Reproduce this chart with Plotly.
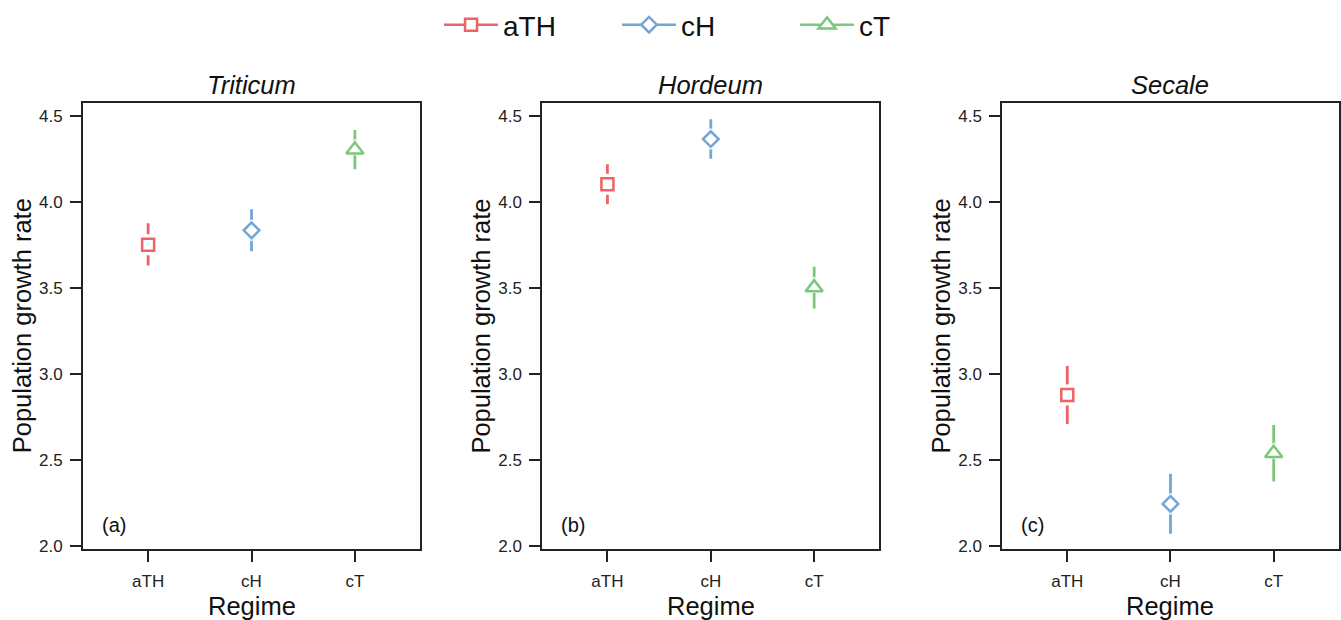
import plotly.graph_objects as go

regimes = ["aTH", "cH", "cT"]
species = ["Triticum", "Hordeum", "Secale"]
panel_tags = ["(a)", "(b)", "(c)"]

# mean, lower, upper per species x regime
means = {
    "Triticum": [3.752, 3.835, 4.304],
    "Hordeum": [4.103, 4.366, 3.502],
    "Secale": [2.878, 2.244, 2.539],
}
lowers = {
    "Triticum": [3.630, 3.713, 4.190],
    "Hordeum": [3.987, 4.252, 3.380],
    "Secale": [2.709, 2.070, 2.374],
}
uppers = {
    "Triticum": [3.876, 3.958, 4.419],
    "Hordeum": [4.219, 4.481, 3.624],
    "Secale": [3.047, 2.419, 2.703],
}
y_ticks = [2.0, 2.5, 3.0, 3.5, 4.0, 4.5]
y_tick_text = ["2.0", "2.5", "3.0", "3.5", "4.0", "4.5"]

colors = {"aTH": "#EF6267", "cH": "#74A5D6", "cT": "#7BC87B"}
symbols = {"aTH": "square", "cH": "diamond", "cT": "triangle-up"}
sizes = {"aTH": 12, "cH": 12, "cT": 15}
mask_sizes = {"aTH": 21, "cH": 17, "cT": 22}

FONT = "Liberation Sans, Arial, Helvetica, sans-serif"

fig = go.Figure()

x_domains = [[0.0619, 0.3132], [0.4044, 0.6557], [0.7474, 0.9983]]
y_domain = [0.1140, 0.8334]

for p, sp in enumerate(species):
    xa = "x" if p == 0 else f"x{p+1}"
    ya = "y" if p == 0 else f"y{p+1}"
    for i, r in enumerate(regimes):
        m = means[sp][i]
        lo = lowers[sp][i]
        hi = uppers[sp][i]
        fig.add_trace(go.Scatter(
            x=[i + 1], y=[m], mode="markers", xaxis=xa, yaxis=ya,
            marker=dict(size=1, color="rgba(0,0,0,0)"),
            error_y=dict(type="data", symmetric=False, array=[hi - m], arrayminus=[m - lo],
                         color=colors[r], thickness=2.8, width=0),
            showlegend=False, hoverinfo="skip"))
        fig.add_trace(go.Scatter(
            x=[i + 1], y=[m], mode="markers", xaxis=xa, yaxis=ya,
            marker=dict(size=mask_sizes[r], symbol=symbols[r], color="white", line=dict(width=0)),
            showlegend=False, hoverinfo="skip"))
        fig.add_trace(go.Scatter(
            x=[i + 1], y=[m], mode="markers", xaxis=xa, yaxis=ya,
            marker=dict(size=sizes[r], symbol=symbols[r], color="white",
                        line=dict(width=2.5, color=colors[r])),
            showlegend=False, name=r))

for r in regimes:
    fig.add_trace(go.Scatter(
        x=[None], y=[None], mode="lines+markers", name=r,
        line=dict(color=colors[r], width=2.5),
        marker=dict(size=sizes[r], symbol=symbols[r], color="white",
                    line=dict(width=2.5, color=colors[r]))))

annotations = []
for p, sp in enumerate(species):
    suffix = "" if p == 0 else str(p + 1)
    fig.layout["xaxis" + suffix] = dict(
        domain=x_domains[p], range=[0.37, 3.63], anchor="y" + suffix,
        tickvals=[1, 2, 3], ticktext=regimes, ticks="outside", ticklen=11,
        tickwidth=1.5, tickcolor="#222", showgrid=False, zeroline=False,
        showline=True, linecolor="#222", linewidth=2, mirror=True, automargin=False,
        tickfont=dict(family=FONT, size=17, color="#222"), ticklabelstandoff=4)
    fig.layout["yaxis" + suffix] = dict(
        domain=y_domain, range=[1.98, 4.574], anchor="x" + suffix,
        tickvals=y_ticks, ticktext=y_tick_text, ticks="outside", ticklen=11,
        tickwidth=1.5, tickcolor="#222", showgrid=False, zeroline=False,
        showline=True, linecolor="#222", linewidth=2, mirror=True, automargin=False,
        tickfont=dict(family=FONT, size=17, color="#222"), ticklabelstandoff=4)
    xd = "x" + suffix + " domain"
    yd = "y" + suffix + " domain"
    annotations.append(dict(
        text=f"<i>{sp}</i>", xref=xd, yref=yd, x=0.5, y=1, xanchor="center",
        yanchor="bottom", yshift=2, showarrow=False,
        font=dict(family=FONT, size=25.5, color="#111")))
    annotations.append(dict(
        text=panel_tags[p], xref=xd, yref=yd, x=0.05, y=0.054, xanchor="left",
        yanchor="middle", showarrow=False,
        font=dict(family=FONT, size=20, color="#111")))
    annotations.append(dict(
        text="Regime", xref=xd, yref=yd, x=0.5, y=0, xanchor="center",
        yanchor="middle", yshift=-57, showarrow=False,
        font=dict(family=FONT, size=25.5, color="#111")))
    annotations.append(dict(
        text="Population growth rate", xref=xd, yref=yd, x=0, y=0.5,
        xanchor="center", yanchor="middle", xshift=-61, textangle=-90,
        showarrow=False, font=dict(family=FONT, size=25.5, color="#111")))

fig.update_layout(
    template="none",
    width=1341, height=620,
    margin=dict(l=0, r=0, t=0, b=0, pad=0),
    paper_bgcolor="white", plot_bgcolor="white",
    annotations=annotations,
    showlegend=True,
    legend=dict(orientation="h", x=0.5265, xanchor="center", y=1 - 25 / 620,
                yanchor="middle", font=dict(family=FONT, size=28, color="#111"),
                itemwidth=54, entrywidth=109, bgcolor="rgba(0,0,0,0)", borderwidth=0),
)

fig.write_html("out.html", config={"displayModeBar": False},
               post_script="document.body.style.margin='0';document.body.style.overflow='hidden';")
